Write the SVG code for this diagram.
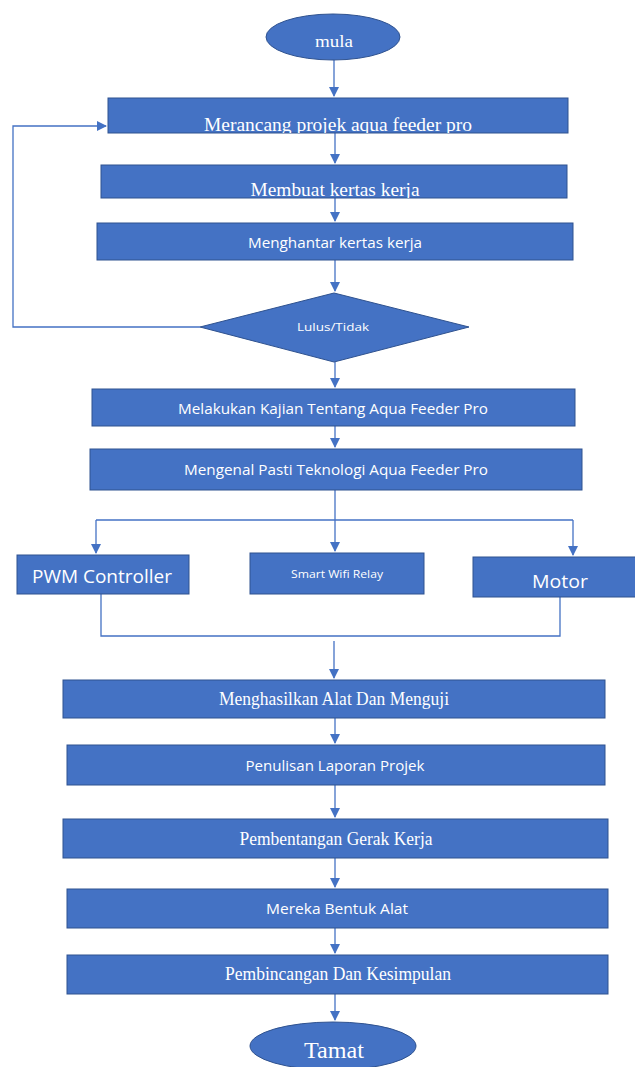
<svg xmlns="http://www.w3.org/2000/svg" width="635" height="1067" viewBox="0 0 635 1067">
<defs>
<marker id="ah" markerWidth="10" markerHeight="10" refX="9" refY="5" orient="auto" markerUnits="userSpaceOnUse">
<path d="M0,0 L10,5 L0,10 Z" fill="#4472C4"/>
</marker>
<clipPath id="c1"><rect x="108" y="98" width="460" height="35"/></clipPath>
<clipPath id="c2"><rect x="101" y="165" width="466" height="33"/></clipPath>
<style>
.box{fill:#4472C4;stroke:#2F528F;stroke-width:1}
.ser{font-family:"Liberation Serif",serif;fill:#fff;text-anchor:middle}
.san{font-family:"Open Sans","Liberation Sans",sans-serif;fill:#fff;text-anchor:middle}
.ln{fill:none;stroke:#4472C4;stroke-width:1.3}
</style>
</defs>
<rect width="635" height="1067" fill="#fff"/>
<g id="connectors">
<path class="ln" d="M334,60 V96" marker-end="url(#ah)"/>
<path class="ln" d="M335,133 V163" marker-end="url(#ah)"/>
<path class="ln" d="M335,198 V221" marker-end="url(#ah)"/>
<path class="ln" d="M335,260 V291" marker-end="url(#ah)"/>
<path class="ln" d="M200,327 H13 V126 H106" marker-end="url(#ah)"/>
<path class="ln" d="M335,362 V387" marker-end="url(#ah)"/>
<path class="ln" d="M335,426 V447" marker-end="url(#ah)"/>
<path class="ln" d="M335,490 V520"/>
<path class="ln" d="M96,520 H573"/>
<path class="ln" d="M96,520 V553" marker-end="url(#ah)"/>
<path class="ln" d="M335,520 V551" marker-end="url(#ah)"/>
<path class="ln" d="M573,520 V555" marker-end="url(#ah)"/>
<path class="ln" d="M101,594 V636 H560 V597"/>
<path class="ln" d="M334,641 V678" marker-end="url(#ah)"/>
<path class="ln" d="M335,718 V743" marker-end="url(#ah)"/>
<path class="ln" d="M335,785 V817" marker-end="url(#ah)"/>
<path class="ln" d="M335,858 V887" marker-end="url(#ah)"/>
<path class="ln" d="M335,928 V953" marker-end="url(#ah)"/>
<path class="ln" d="M335,994 V1020" marker-end="url(#ah)"/>
</g>
<g id="mula">
<ellipse class="box" cx="333" cy="37" rx="67" ry="23"/>
<text class="ser" x="334" y="47" font-size="17" textLength="38" lengthAdjust="spacingAndGlyphs">mula</text>
</g>
<g id="merancang">
<rect class="box" x="108" y="98" width="460" height="35"/>
<text class="ser" x="338" y="131" font-size="19" textLength="268" lengthAdjust="spacingAndGlyphs" clip-path="url(#c1)">Merancang projek aqua feeder pro</text>
</g>
<g id="membuat">
<rect class="box" x="101" y="165" width="466" height="33"/>
<text class="ser" x="335" y="196" font-size="19" textLength="169" lengthAdjust="spacingAndGlyphs" clip-path="url(#c2)">Membuat kertas kerja</text>
</g>
<g id="menghantar">
<rect class="box" x="97" y="223" width="476" height="37"/>
<text class="san" x="335" y="248" font-size="15" textLength="174" lengthAdjust="spacingAndGlyphs">Menghantar kertas kerja</text>
</g>
<g id="lulus">
<polygon class="box" points="334,293 469,327 334,362 200,327"/>
<text class="san" x="333" y="331" font-size="11" textLength="72" lengthAdjust="spacingAndGlyphs">Lulus/Tidak</text>
</g>
<g id="kajian">
<rect class="box" x="92" y="389" width="483" height="37"/>
<text class="san" x="333" y="414" font-size="15" textLength="310" lengthAdjust="spacingAndGlyphs">Melakukan Kajian Tentang Aqua Feeder Pro</text>
</g>
<g id="mengenal">
<rect class="box" x="90" y="449" width="492" height="41"/>
<text class="san" x="336" y="475" font-size="15" textLength="304" lengthAdjust="spacingAndGlyphs">Mengenal Pasti Teknologi Aqua Feeder Pro</text>
</g>
<g id="pwm">
<rect class="box" x="17" y="555" width="172" height="39"/>
<text class="san" x="102" y="583" font-size="19" textLength="140" lengthAdjust="spacingAndGlyphs">PWM Controller</text>
</g>
<g id="relay">
<rect class="box" x="250" y="553" width="174" height="41"/>
<text class="san" x="337" y="578" font-size="10" textLength="92" lengthAdjust="spacingAndGlyphs">Smart Wifi Relay</text>
</g>
<g id="motor">
<rect class="box" x="473" y="557" width="163" height="40"/>
<text class="san" x="560" y="588" font-size="19" textLength="56" lengthAdjust="spacingAndGlyphs">Motor</text>
</g>
<g id="menghasilkan">
<rect class="box" x="63" y="680" width="542" height="38"/>
<text class="ser" x="334" y="705" font-size="18" textLength="230" lengthAdjust="spacingAndGlyphs">Menghasilkan Alat Dan Menguji</text>
</g>
<g id="penulisan">
<rect class="box" x="67" y="745" width="538" height="40"/>
<text class="san" x="335" y="771" font-size="15" textLength="179" lengthAdjust="spacingAndGlyphs">Penulisan Laporan Projek</text>
</g>
<g id="pembentangan">
<rect class="box" x="63" y="819" width="545" height="39"/>
<text class="ser" x="336" y="845" font-size="18" textLength="193" lengthAdjust="spacingAndGlyphs">Pembentangan Gerak Kerja</text>
</g>
<g id="mereka">
<rect class="box" x="67" y="889" width="541" height="39"/>
<text class="san" x="337" y="914" font-size="15" textLength="142" lengthAdjust="spacingAndGlyphs">Mereka Bentuk Alat</text>
</g>
<g id="pembincangan">
<rect class="box" x="67" y="955" width="541" height="39"/>
<text class="ser" x="338" y="980" font-size="18" textLength="226" lengthAdjust="spacingAndGlyphs">Pembincangan Dan Kesimpulan</text>
</g>
<g id="tamat">
<ellipse class="box" cx="333" cy="1046" rx="83" ry="24"/>
<text class="ser" x="334" y="1058" font-size="23" textLength="60" lengthAdjust="spacingAndGlyphs">Tamat</text>
</g>
</svg>
